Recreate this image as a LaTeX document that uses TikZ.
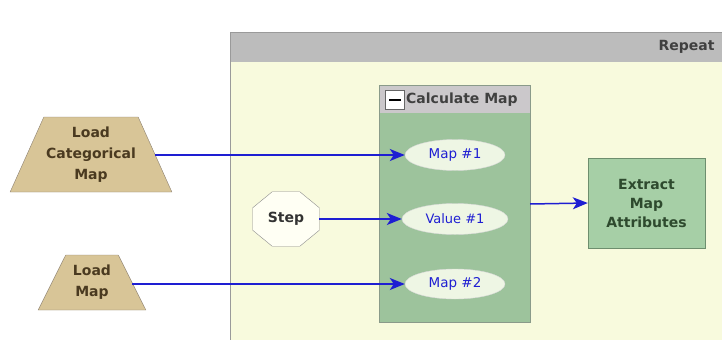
\documentclass[tikz,border=0pt]{standalone}
\usepackage{fontspec}
\setmainfont{DejaVu Sans}
\usetikzlibrary{shapes.geometric,arrows.meta}
\definecolor{repbody}{HTML}{F8FADD}
\definecolor{rephead}{HTML}{BCBCBC}
\definecolor{repedge}{HTML}{9A9A9A}
\definecolor{calcbody}{HTML}{9DC39C}
\definecolor{calchead}{HTML}{CBC8CB}
\definecolor{calcedge}{HTML}{8A9A8A}
\definecolor{ellfill}{HTML}{EEF6E4}
\definecolor{tan}{HTML}{D8C597}
\definecolor{tanedge}{HTML}{8C8070}
\definecolor{brownt}{HTML}{4A3A20}
\definecolor{extfill}{HTML}{A6CFA6}
\definecolor{extedge}{HTML}{6E8E6E}
\definecolor{extt}{HTML}{2E4A2E}
\definecolor{linkblue}{HTML}{1E1ED2}
\definecolor{octfill}{HTML}{FFFFF4}
\tikzset{
  x=1pt,y=-1pt,
  boldlbl/.style={font=\bfseries\fontsize{14}{19}\selectfont},
  port/.style={ellipse,draw=white!70!gray,fill=ellfill,text=linkblue,font=\fontsize{13.5}{15}\selectfont,inner sep=0pt,minimum width=100,minimum height=31},
  loadbox/.style={trapezium,trapezium stretches=true,draw=tanedge,fill=tan,text=brownt,font=\bfseries\fontsize{14}{21}\selectfont,align=center,inner sep=0pt},
  link/.style={draw=linkblue,line width=1.5pt,-{Stealth[length=15pt,width=12pt,inset=4pt]}},
}
\begin{document}
\begin{tikzpicture}
\useasboundingbox (0,0) rectangle (722,340);
% Repeat container
\fill[repbody] (230,32) rectangle (722,340);
\fill[rephead] (230,32) rectangle (722,62);
\draw[repedge,line width=1pt] (722,32) -- (230,32) -- (230,340);
\node[anchor=east,boldlbl,text=black!75] (reptitle) at (718,47) {Repeat};
% Calculate Map group
\fill[calcbody] (379,85) rectangle (530,322);
\fill[calchead] (379,85) rectangle (530,113);
\draw[calcedge,line width=0.8pt] (379,85) rectangle (530,322);
\node[draw=black!60,fill=white,minimum width=19,minimum height=19,inner sep=0pt] (minus) at (395,100) {};
\draw[line width=2.2pt] (389,100) -- (401,100);
\node[anchor=west,boldlbl,text=black!75,inner sep=0pt] (calctitle) at (406,100) {Calculate Map};
\coordinate (calcright) at (530,204);
% ports
\node[port] (map1) at (455,155) {Map \#1};
\node[port,minimum width=106,font=\fontsize{13}{15}\selectfont] (val1) at (455,219) {Value \#1};
\node[port,minimum height=30] (map2) at (455,284) {Map \#2};
% Loaders
\node[loadbox,minimum width=162,minimum height=75] (lcm) at (91,154.5) {Load\\Categorical\\Map};
\node[loadbox,minimum width=108,minimum height=55] (lm) at (92,282.5) {Load\\Map};
% Step
\node[regular polygon,regular polygon sides=8,draw=black!45,fill=octfill,minimum size=72,inner sep=0pt,yscale=0.82] (step) at (286,219) {};
\node[boldlbl,text=black!80] (steplabel) at (286,219) {Step};
% Extract
\node[draw=extedge,fill=extfill,minimum width=117,minimum height=90,inner sep=0pt,text=extt,align=center,boldlbl] (ext) at (646.5,203) {Extract\\Map\\Attributes};
% links
\draw[link] (lcm.east |- map1.west) -- (map1.west);
\draw[link] (step.east) -- (val1.west);
\draw[link] (lm.east |- map2.west) -- (map2.west);
\draw[link] (calcright) -- (ext.west);
\end{tikzpicture}
\end{document}
